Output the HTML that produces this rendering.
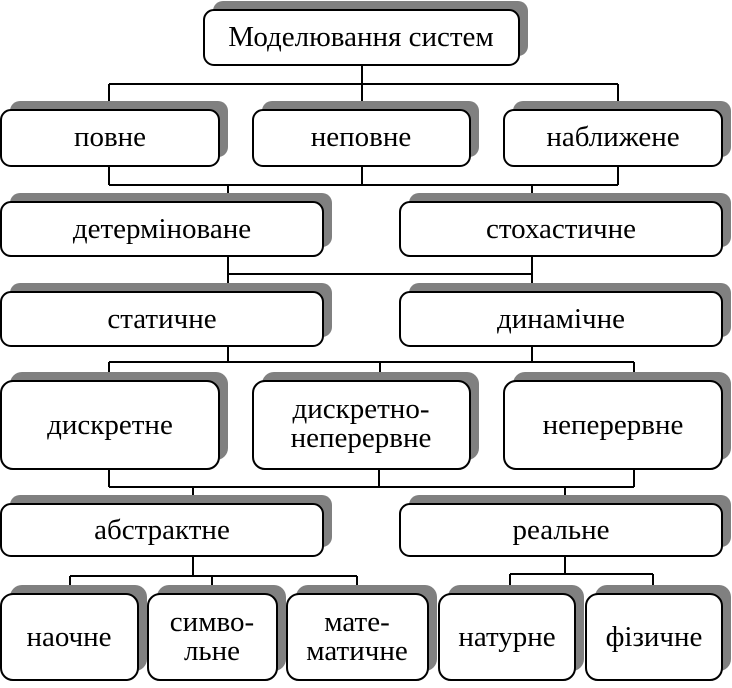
<!DOCTYPE html>
<html><head><meta charset="utf-8"><style>
html,body{margin:0;padding:0;background:#fff}
svg text{font-family:"Liberation Serif",serif;font-size:29px;fill:#000;text-anchor:middle}
</style></head><body>
<svg width="732" height="683" viewBox="0 0 732 683" xmlns="http://www.w3.org/2000/svg">
<g stroke="#000" stroke-width="2" fill="none">
<path d="M362 65V84M109 84H618M109 84V110M362 84V110M618 84V110"/>
<path d="M109 166V185M362 166V185M618 166V185M109 185H618M228 185V202M532 185V202"/>
<path d="M228 256V292M532 256V292M228 274H532"/>
<path d="M228 346V362M532 346V362M109 362H634M109 362V381M380 362V381M634 362V381"/>
<path d="M109 469V487M379 469V487M634 469V487M109 487H634M193 487V504M565 487V504"/>
<path d="M193 556V576M70 576H357M70 576V594M212 576V594M357 576V594"/>
<path d="M565 556V574M510 574H653M510 574V594M653 574V594"/>
</g>
<g fill="#808080">
<rect x="213" y="1" width="315" height="55" rx="10"/>
<rect x="10" y="101" width="218" height="56" rx="10"/>
<rect x="262" y="101" width="217" height="56" rx="10"/>
<rect x="513" y="101" width="218" height="56" rx="10"/>
<rect x="10" y="193" width="322" height="54" rx="10"/>
<rect x="409" y="193" width="322" height="54" rx="10"/>
<rect x="10" y="283" width="322" height="54" rx="10"/>
<rect x="409" y="283" width="322" height="54" rx="10"/>
<rect x="10" y="372" width="218" height="88" rx="12"/>
<rect x="262" y="372" width="217" height="88" rx="12"/>
<rect x="513" y="372" width="218" height="88" rx="12"/>
<rect x="10" y="495" width="322" height="52" rx="10"/>
<rect x="409" y="495" width="322" height="52" rx="10"/>
<rect x="10" y="585" width="137" height="86" rx="12"/>
<rect x="157" y="585" width="129" height="86" rx="12"/>
<rect x="296" y="585" width="141" height="86" rx="12"/>
<rect x="448" y="585" width="136" height="86" rx="12"/>
<rect x="595" y="585" width="136" height="86" rx="12"/>
</g>
<g fill="#fff" stroke="#000" stroke-width="2">
<rect x="204" y="10" width="315" height="55" rx="10"/>
<rect x="1" y="110" width="218" height="56" rx="10"/>
<rect x="253" y="110" width="217" height="56" rx="10"/>
<rect x="504" y="110" width="218" height="56" rx="10"/>
<rect x="1" y="202" width="322" height="54" rx="10"/>
<rect x="400" y="202" width="322" height="54" rx="10"/>
<rect x="1" y="292" width="322" height="54" rx="10"/>
<rect x="400" y="292" width="322" height="54" rx="10"/>
<rect x="1" y="381" width="218" height="88" rx="12"/>
<rect x="253" y="381" width="217" height="88" rx="12"/>
<rect x="504" y="381" width="218" height="88" rx="12"/>
<rect x="1" y="504" width="322" height="52" rx="10"/>
<rect x="400" y="504" width="322" height="52" rx="10"/>
<rect x="1" y="594" width="137" height="86" rx="12"/>
<rect x="148" y="594" width="129" height="86" rx="12"/>
<rect x="287" y="594" width="141" height="86" rx="12"/>
<rect x="439" y="594" width="136" height="86" rx="12"/>
<rect x="586" y="594" width="136" height="86" rx="12"/>
</g>
<text x="361" y="46">Моделювання систем</text>
<text x="110" y="146">повне</text>
<text x="361" y="146">неповне</text>
<text x="613" y="146">наближене</text>
<text x="162" y="238">детерміноване</text>
<text x="561" y="238">стохастичне</text>
<text x="162" y="328">статичне</text>
<text x="561" y="328">динамічне</text>
<text x="110" y="434">дискретне</text>
<text x="361" y="418">дискретно-</text>
<text x="361" y="447">неперервне</text>
<text x="613" y="434">неперервне</text>
<text x="162" y="539">абстрактне</text>
<text x="561" y="539">реальне</text>
<text x="69" y="646">наочне</text>
<text x="212" y="631">симво-</text>
<text x="212" y="660">льне</text>
<text x="357" y="631">мате-</text>
<text x="357" y="660">матичне</text>
<text x="507" y="646">натурне</text>
<text x="654" y="646">фізичне</text>
</svg>
</body></html>
